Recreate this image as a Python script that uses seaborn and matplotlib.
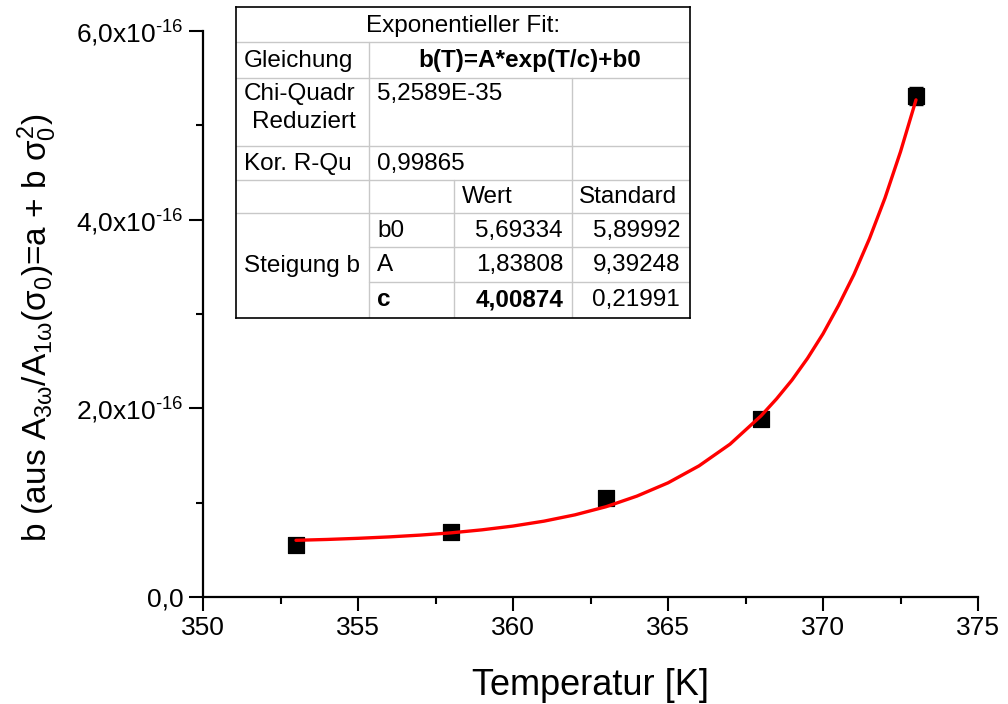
import numpy as np
import pandas as pd
import seaborn as sns
import matplotlib.pyplot as plt
from matplotlib.ticker import FixedLocator, FuncFormatter

# measured points (b in units of 1e-16)
temp = [353, 358, 363, 368, 373]
b_val = [0.55, 0.69, 1.05, 1.89, 5.31]
b_err = [0.02, 0.02, 0.03, 0.05, 0.095]

# red fit curve
fit_T = [353, 354, 355, 356, 357, 358, 359, 360, 361, 362, 363, 364, 365, 366, 367,
         368, 368.5, 369, 369.5, 370, 370.5, 371, 371.5, 372, 372.5, 373]
fit_b = [0.601, 0.610, 0.622, 0.637, 0.656, 0.680, 0.712, 0.752, 0.804, 0.871, 0.957,
         1.07, 1.21, 1.39, 1.62, 1.92, 2.10, 2.30, 2.53, 2.79, 3.09, 3.42, 3.80, 4.23,
         4.72, 5.27]

x_ticks = [350, 355, 360, 365, 370, 375]
x_minor = [352.5, 357.5, 362.5, 367.5, 372.5]
y_ticks = [0, 2, 4, 6]
y_minor = [1, 3, 5]

pts = pd.DataFrame({'T': temp, 'b': np.array(b_val) * 1e-16, 'err': np.array(b_err) * 1e-16})
fit = pd.DataFrame({'T': fit_T, 'b': np.array(fit_b) * 1e-16})

sns.set_style('ticks')
plt.rcParams['font.family'] = ['Liberation Sans', 'DejaVu Sans']
plt.rcParams['mathtext.fontset'] = 'custom'
plt.rcParams['mathtext.rm'] = 'Liberation Sans'
plt.rcParams['mathtext.it'] = 'Liberation Sans'
plt.rcParams['mathtext.bf'] = 'Liberation Sans:bold'
for k in ['text.color', 'axes.labelcolor', 'xtick.color', 'ytick.color', 'axes.edgecolor']:
    plt.rcParams[k] = 'black'

fig = plt.figure(figsize=(10.08, 7.04), dpi=100)
ax = fig.add_axes([203/1008, 107/704, 775/1008, 566/704])

sns.lineplot(data=fit, x='T', y='b', color='red', lw=2.4, ax=ax, zorder=3)
ax.errorbar(pts['T'], pts['b'], yerr=pts['err'], fmt='none', ecolor='black',
            elinewidth=1, capsize=5, zorder=2)
sns.scatterplot(data=pts, x='T', y='b', marker='s', s=120, color='black',
                edgecolor='black', ax=ax, zorder=2)

ax.set_xlim(350, 375)
ax.set_ylim(0, 6e-16)
ax.xaxis.set_major_locator(FixedLocator(x_ticks))
ax.xaxis.set_minor_locator(FixedLocator(x_minor))
ax.yaxis.set_major_locator(FixedLocator([v * 1e-16 for v in y_ticks]))
ax.yaxis.set_minor_locator(FixedLocator([v * 1e-16 for v in y_minor]))


def yfmt(v, pos):
    m = v / 1e-16
    if abs(m) < 1e-9:
        return '0,0'
    return ('%.1f' % m).replace('.', ',') + r'x10$^{\text{-16}}$'


ax.yaxis.set_major_formatter(FuncFormatter(yfmt))
ax.tick_params(which='major', direction='out', length=10, width=1.5, labelsize=19, pad=4)
ax.tick_params(which='minor', direction='out', length=5, width=1.5)
for s in ['left', 'bottom']:
    ax.spines[s].set_linewidth(1.6)
sns.despine(ax=ax)

ax.set_xlabel('Temperatur [K]', fontsize=26, labelpad=20)
ax.set_ylabel('')
fig.text(37/1008, 1 - 328/704,
         r'b (aus A$_{3\omega}$/A$_{1\omega}$($\sigma_0$)=a + b $\sigma_0^2$)',
         rotation=90, ha='center', va='center', fontsize=24)

# fit result table
tb = fig.add_axes([236/1008, (704-318)/704, 454/1008, 311/704])
tb.set_xlim(0, 454)
tb.set_ylim(311, 0)
tb.set_xticks([])
tb.set_yticks([])
for s in tb.spines.values():
    s.set_linewidth(1.2)
    s.set_color('black')
grey = '#c8c8c8'
for y in [35, 71, 139, 173, 206]:
    tb.plot([0, 454], [y, y], color=grey, lw=1)
for y in [240, 275]:
    tb.plot([133, 454], [y, y], color=grey, lw=1)
tb.plot([133, 133], [35, 311], color=grey, lw=1)
tb.plot([218, 218], [173, 311], color=grey, lw=1)
tb.plot([336, 336], [71, 311], color=grey, lw=1)

fs = 17.5
tb.text(227, 19, 'Exponentieller Fit:', ha='center', va='center', fontsize=fs)
tb.text(8, 54, 'Gleichung', ha='left', va='center', fontsize=fs)
tb.text(294, 54, 'b(T)=A*exp(T/c)+b0', ha='center', va='center', fontsize=fs, fontweight='bold')
tb.text(8, 101, 'Chi-Quadr\nReduziert', ha='left', va='center', multialignment='right',
        fontsize=fs, linespacing=1.3)
tb.text(141, 87, '5,2589E-35', ha='left', va='center', fontsize=fs)
tb.text(8, 157, 'Kor. R-Qu', ha='left', va='center', fontsize=fs)
tb.text(141, 157, '0,99865', ha='left', va='center', fontsize=fs)
tb.text(226, 190, 'Wert', ha='left', va='center', fontsize=fs)
tb.text(343, 190, 'Standard', ha='left', va='center', fontsize=fs)
tb.text(8, 259, 'Steigung b', ha='left', va='center', fontsize=fs)
rows = [('b0', '5,69334', '5,89992', 'normal', 224),
        ('A', '1,83808', '9,39248', 'normal', 258),
        ('c', '4,00874', '0,21991', 'bold', 293)]
for name, val, err, w, y in rows:
    tb.text(141, y, name, ha='left', va='center', fontsize=fs, fontweight=w)
    tb.text(327, y, val, ha='right', va='center', fontsize=fs, fontweight=w)
    tb.text(444, y, err, ha='right', va='center', fontsize=fs)

fig.savefig('out.png', dpi=100)
